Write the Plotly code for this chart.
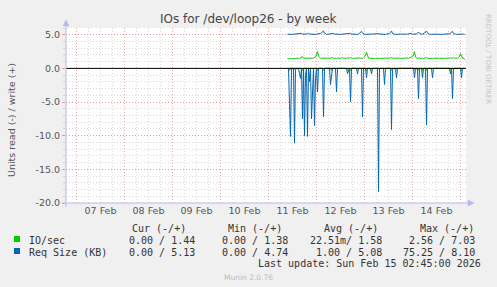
import plotly.graph_objects as go
import pandas as pd

# ---------------- data ----------------
start_time = "2026-02-11 09:30"
n_points = 178

io_write = [
    1.45, 1.40, 1.42, 1.48, 1.40, 1.45, 1.42, 1.40, 1.45, 1.50,
    1.45, 1.48, 1.50, 1.55, 1.60, 1.75, 1.55, 1.50, 1.48, 1.50,
    1.52, 1.50, 1.48, 1.50, 1.52, 1.50, 1.55, 1.60, 1.70, 2.00,
    2.50, 1.80, 1.55, 1.50, 1.52, 1.50, 1.48, 1.50, 1.52, 1.50,
    1.50, 1.55, 1.50, 1.48, 1.60, 1.50, 1.52, 1.50, 1.55, 1.50,
    1.52, 1.50, 1.48, 1.50, 1.55, 1.60, 1.52, 1.50, 1.48, 1.50,
    1.55, 1.50, 1.52, 1.60, 1.50, 1.48, 1.50, 1.52, 1.50, 1.48,
    1.50, 1.52, 1.55, 1.50, 1.48, 1.50, 1.60, 1.70, 1.90, 2.40,
    1.70, 1.52, 1.50, 1.48, 1.50, 1.52, 1.50, 1.48, 1.50, 1.52,
    1.50, 1.55, 1.50, 1.48, 1.50, 1.52, 1.50, 1.55, 1.50, 1.52,
    1.50, 1.48, 1.50, 1.55, 1.60, 1.50, 1.48, 1.50, 1.52, 1.50,
    1.48, 1.50, 1.52, 1.50, 1.48, 1.50, 1.52, 1.50, 1.55, 1.50,
    1.52, 1.50, 1.55, 1.60, 1.65, 1.75, 1.90, 2.50, 1.70, 1.50,
    1.48, 1.50, 1.52, 1.50, 1.55, 1.50, 1.48, 1.50, 1.52, 1.60,
    1.50, 1.48, 1.50, 1.52, 1.50, 1.48, 1.50, 1.52, 1.50, 1.48,
    1.50, 1.52, 1.50, 1.48, 1.50, 1.52, 1.50, 1.48, 1.50, 1.52,
    1.50, 1.48, 1.50, 1.55, 1.50, 1.52, 1.60, 1.50, 1.48, 1.50,
    1.52, 1.60, 1.80, 2.20, 1.70, 1.50, 1.55, 1.30,
]

io_read = [
    0, 0, -0.3, 0, 0, 0, 0, 0, -0.3, 0,
    0, 0, 0, 0, 0, -0.3, 0, 0, 0, 0,
    0, 0, 0, 0, 0, 0, 0, 0, 0, 0,
    -0.3, 0, 0, 0, 0, 0, -0.3, 0, 0, 0,
    0, 0, 0, 0, -0.3, 0, 0, 0, 0, 0,
    0, 0, 0, 0, 0, 0, 0, 0, 0, 0,
    -0.3, 0, 0, -0.3, 0, 0, 0, 0, 0, 0,
    0, 0, 0, 0, 0, 0, 0, 0, 0, -0.3,
    0, 0, 0, -0.3, 0, 0, 0, 0, 0, 0,
    0, 0, 0, 0, 0, 0, 0, 0, 0, 0,
    0, 0, 0, 0, -0.3, 0, 0, 0, -0.3, 0,
    0, 0, 0, 0, 0, 0, 0, 0, 0, 0,
    0, 0, 0, 0, 0, 0, 0, 0, -0.3, 0,
    0, -0.3, 0, 0, 0, -0.3, 0, 0, 0, -0.3,
    0, 0, 0, 0, 0, 0, 0, 0, 0, 0,
    0, 0, 0, 0, 0, 0, 0, 0, 0, 0,
    0, 0, 0, -0.3, 0, 0, 0, 0, 0, 0,
    0, 0, 0, 0, -0.3, 0, 0, 0,
]

req_write = [
    5.08, 5.06, 5.08, 5.10, 5.08, 5.06, 5.08, 5.10, 5.08, 5.06,
    5.08, 5.10, 5.12, 5.15, 5.20, 5.10, 5.08, 5.06, 5.08, 5.10,
    5.15, 5.20, 5.10, 5.08, 5.06, 5.08, 5.10, 5.08, 5.06, 5.08,
    5.10, 5.12, 5.15, 5.20, 5.30, 5.45, 5.55, 5.25, 5.10, 5.08,
    5.06, 5.08, 5.10, 5.08, 5.12, 5.15, 5.20, 5.10, 5.08, 5.06,
    5.08, 5.10, 5.08, 5.06, 5.08, 5.10, 5.08, 5.06, 5.08, 5.10,
    5.12, 5.15, 5.18, 5.20, 5.10, 5.08, 5.06, 5.08, 5.10, 5.08,
    5.06, 5.10, 5.20, 5.35, 5.50, 5.25, 5.10, 5.08, 5.06, 5.08,
    5.10, 5.08, 5.06, 5.08, 5.10, 5.08, 5.10, 5.18, 5.20, 5.22,
    5.20, 5.18, 5.10, 5.08, 5.06, 5.08, 5.10, 5.08, 5.06, 5.08,
    5.10, 5.15, 5.20, 5.35, 5.55, 5.20, 5.10, 5.08, 5.06, 5.08,
    5.10, 5.08, 5.06, 5.08, 5.10, 5.08, 5.06, 5.08, 5.10, 5.08,
    5.10, 5.15, 5.20, 5.25, 5.20, 5.10, 5.08, 5.06, 5.08, 5.10,
    5.25, 5.40, 5.20, 5.10, 5.08, 5.10, 5.15, 5.25, 5.40, 5.55,
    5.25, 5.10, 5.08, 5.06, 5.08, 5.10, 5.08, 5.06, 5.08, 5.10,
    5.08, 5.06, 5.08, 5.10, 5.08, 5.06, 5.08, 5.10, 5.08, 5.06,
    5.08, 5.10, 5.15, 5.25, 5.40, 5.50, 5.20, 5.10, 5.08, 5.06,
    5.08, 5.10, 5.08, 5.06, 5.08, 5.10, 5.08, 5.06,
]

req_read = [
    0, 0, -5.2, -10.1, 0, 0, 0, -11.1, 0, 0,
    0, 0, -0.8, -1.5, 0, -7.5, 0, -10.0, -1.0, 0,
    -10.1, 0, -2.0, 0, -7.5, -3.0, 0, -8.5, -1.5, 0,
    -3.5, 0, 0, 0, 0, 0, -7.2, 0, 0, 0,
    0, 0, 0, -2.4, -1.0, 0, 0, 0, 0, -3.5,
    0, 0, 0, 0, 0, 0, 0, 0, 0, 0,
    -0.8, -0.5, 0, -5.0, 0, 0, 0, 0, 0, 0,
    -0.8, 0, 0, 0, 0, -7.2, 0, 0, 0, -1.4,
    0, 0, 0, 0, -0.8, 0, 0, 0, 0, 0,
    0, -18.3, 0, 0, 0, 0, 0, -2.4, 0, 0,
    0, 0, 0, 0, -9.1, 0, 0, 0, 0, -1.4,
    0, 0, 0, 0, 0, 0, 0, 0, 0, 0,
    0, 0, 0, 0, 0, 0, 0, -1.4, 0, 0,
    0, -4.5, 0, 0, 0, -1.4, 0, 0, 0, -8.4,
    0, 0, 0, 0, 0, -1.4, 0, 0, 0, 0,
    0, 0, 0, 0, 0, 0, 0, 0, 0, 0,
    0, 0, 0, -0.8, 0, -4.5, 0, 0, 0, 0,
    0, 0, 0, 0, -1.4, 0, 0, 0,
]

x_range = ["2026-02-06 18:45", "2026-02-15 02:45"]
ytick_vals = [-20, -15, -10, -5, 0, 5]
ytick_text = ["-20.0", "-15.0", "-10.0", "-5.0", "0.0", "5.0"]

title_text = "IOs for /dev/loop26 - by week"
ytitle_text = "Units read (-) / write (+)"
series_names = ["IO/sec", "Req Size (KB)"]
stat_headers = ["Cur (-/+)", "Min (-/+)", "Avg (-/+)", "Max (-/+)"]
io_stats = ["0.00 / 1.44", "0.00 / 1.38", "22.51m/ 1.58", "2.56 / 7.03"]
req_stats = ["0.00 / 5.13", "0.00 / 4.74", "1.00 / 5.08", "75.25 / 8.10"]
last_update = "Last update: Sun Feb 15 02:45:00 2026"
munin_ver = "Munin 2.0.76"
rrd_text = "RRDTOOL / TOBI OETIKER"

GREEN = "#00CC00"
BLUE = "#0066B3"

times = pd.date_range(start_time, periods=n_points, freq="30min")

# ---------------- geometry helpers ----------------
W, H = 497, 287
L, R, T, B = 66, 466, 28, 203


def px(x):
    return (x - L) / (R - L)


def py(y):
    return (B - y) / (B - T)


fig = go.Figure()
fig.add_trace(go.Scatter(x=times, y=req_read, mode="lines",
                         line=dict(color=BLUE, width=1), showlegend=False))
fig.add_trace(go.Scatter(x=times, y=io_read, mode="lines",
                         line=dict(color=GREEN, width=1), showlegend=False))
fig.add_trace(go.Scatter(x=times, y=io_write, mode="lines",
                         line=dict(color=GREEN, width=1), showlegend=False))
fig.add_trace(go.Scatter(x=times, y=req_write, mode="lines",
                         line=dict(color=BLUE, width=1), showlegend=False))

MAJOR = "rgba(235,110,110,0.6)"
MINOR = "rgba(200,200,200,0.7)"
DASH = "1px,2px"
TXT = "#555555"

fig.update_layout(
    width=W, height=H,
    margin=dict(l=L, r=W - R, t=T, b=H - B, pad=0),
    paper_bgcolor="#F0F0F0",
    plot_bgcolor="#FFFFFF",
    font=dict(family="DejaVu Sans", size=9.5, color=TXT),
    showlegend=False,
    xaxis=dict(
        type="date", range=x_range,
        tick0="2026-02-07", dtick=86400000,
        ticklabelmode="period", tickformat="%d %b",
        showgrid=True, gridcolor=MAJOR, griddash=DASH, gridwidth=1,
        minor=dict(tick0="2026-02-07", dtick=21600000, showgrid=True,
                   gridcolor=MINOR, griddash=DASH, gridwidth=1),
        showline=False, zeroline=False, ticks="",
        tickfont=dict(size=9.5, color=TXT),
        fixedrange=True,
    ),
    yaxis=dict(
        range=[-20, 6],
        tickmode="array", tickvals=ytick_vals, ticktext=ytick_text,
        showgrid=True, gridcolor=MAJOR, griddash=DASH, gridwidth=1,
        minor=dict(tickmode="linear", tick0=0, dtick=1, showgrid=True,
                   gridcolor=MINOR, griddash=DASH, gridwidth=1,
                   ticks="outside", ticklen=2, tickcolor=MINOR),
        ticks="outside", ticklen=3, tickcolor=MAJOR,
        showline=False, zeroline=False,
        tickfont=dict(size=9.5, color=TXT),
        fixedrange=True,
    ),
)

AXC = "#B8B8E8"
shapes = [
    # zero line on top
    dict(type="line", xref="paper", yref="y", x0=0, x1=1, y0=0, y1=0,
         line=dict(color="#000000", width=1), layer="above"),
    # y axis line
    dict(type="line", xref="paper", yref="paper", x0=px(66), x1=px(66),
         y0=py(207), y1=py(24), line=dict(color=AXC, width=1), layer="above"),
    # x axis line
    dict(type="line", xref="paper", yref="paper", x0=px(62), x1=px(469),
         y0=py(203), y1=py(203), line=dict(color=AXC, width=1), layer="above"),
    # arrows
    dict(type="path", xref="paper", yref="paper",
         path=f"M {px(63)},{py(26)} L {px(69)},{py(26)} L {px(66)},{py(20)} Z",
         fillcolor=AXC, line=dict(color=AXC, width=0.5), layer="above"),
    dict(type="path", xref="paper", yref="paper",
         path=f"M {px(468)},{py(200)} L {px(468)},{py(206)} L {px(474)},{py(203)} Z",
         fillcolor=AXC, line=dict(color=AXC, width=0.5), layer="above"),
    # legend squares
    dict(type="rect", xref="paper", yref="paper", x0=px(14), x1=px(20),
         y0=py(242), y1=py(236), fillcolor=GREEN, line=dict(width=0)),
    dict(type="rect", xref="paper", yref="paper", x0=px(14), x1=px(20),
         y0=py(254), y1=py(248), fillcolor=BLUE, line=dict(width=0)),
]
fig.update_layout(shapes=shapes)

MONO = "DejaVu Sans Mono"
ann = []


def add_text(text, x, y, xanchor="left", size=10, color="#333333",
             family=MONO, angle=0):
    ann.append(dict(text=text, x=px(x), y=py(y), xref="paper", yref="paper",
                    xanchor=xanchor, yanchor="middle", showarrow=False,
                    textangle=angle,
                    font=dict(family=family, size=size, color=color)))


add_text(title_text, 248.5, 19, xanchor="center", size=12,
         color="#444444", family="DejaVu Sans")
add_text(ytitle_text, 11, 120, xanchor="center", size=9.5, color=TXT,
         family="DejaVu Sans", angle=-90)
add_text(rrd_text, 488, 59, xanchor="center", size=7, color="#C4C4C4",
         family="DejaVu Sans", angle=90)
add_text(munin_ver, 248, 277, xanchor="center", size=7.5, color="#BBBBBB",
         family="DejaVu Sans")

header_right = [187.5, 283.5, 380, 476]
value_right = [196.8, 290, 383.5, 476.8]
for h, xr in zip(stat_headers, header_right):
    add_text(h, xr, 228, xanchor="right")
add_text(series_names[0], 26.5, 240)
add_text(series_names[1], 26.5, 252)
for s, xr in zip(io_stats, value_right):
    add_text(s, xr, 240, xanchor="right")
for s, xr in zip(req_stats, value_right):
    add_text(s, xr, 252, xanchor="right")
add_text(last_update, 482.5, 263.5, xanchor="right")

fig.update_layout(annotations=ann)

fig.write_html("out.html")
